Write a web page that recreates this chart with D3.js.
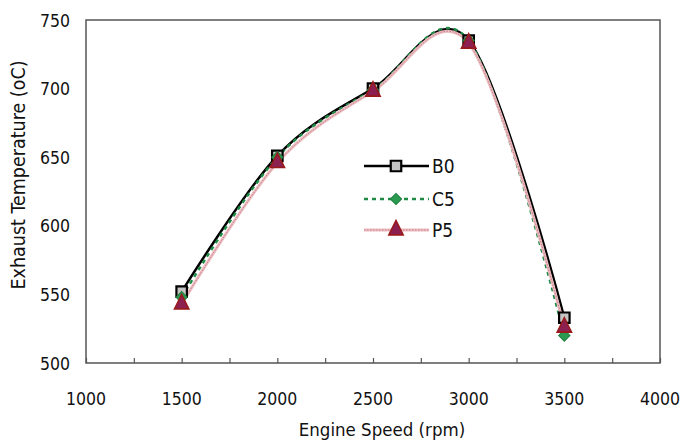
<!DOCTYPE html>
<html><head><meta charset="utf-8">
<script src="https://cdn.jsdelivr.net/npm/d3@7"></script>
<style>body{margin:0;background:#fff}svg{display:block}text{font-family:"DejaVu Sans Condensed","DejaVu Sans",sans-serif;fill:#111}</style>
</head><body><svg id="c" width="682" height="442"></svg>
<script>
const speeds = [1500, 2000, 2500, 3000, 3500];
const b0 = [552, 651, 700, 735, 533];
const c5 = [548, 650, 699, 735, 520];
const p5 = [543, 646, 698, 733, 526];
const seriesNames = ["B0", "C5", "P5"];
const xTickLabels = [1000, 1500, 2000, 2500, 3000, 3500, 4000];
const yTickLabels = [500, 550, 600, 650, 700, 750];

const svg = d3.select("#c");
const L = 86, R = 660, T = 20, B = 363;
const x = d3.scaleLinear().domain([1000, 4000]).range([L, R]);
const y = d3.scaleLinear().domain([500, 750]).range([B, T]);

// frame
svg.append("rect").attr("x", L).attr("y", T).attr("width", R - L).attr("height", B - T)
  .attr("fill", "none").attr("stroke", "#555").attr("stroke-width", 1.5);

// x ticks (inward), every 250
const xAxis = d3.axisBottom(x).tickValues(d3.range(1000, 4001, 250)).tickSize(-5).tickFormat("");
const gx = svg.append("g").attr("transform", `translate(0,${B})`).call(xAxis);
gx.select(".domain").remove();
gx.selectAll("line").attr("stroke", "#555").attr("stroke-width", 1.2);
svg.append("g").selectAll("text").data(xTickLabels).join("text")
  .attr("x", d => x(d)).attr("y", 405).attr("text-anchor", "middle")
  .attr("font-size", 17.5).text(d => d);

// y labels
svg.append("g").selectAll("text").data(yTickLabels).join("text")
  .attr("x", 70).attr("y", d => y(d) + 6.5).attr("text-anchor", "end")
  .attr("font-size", 17.5).text(d => d);

// axis titles
svg.append("text").attr("x", 382).attr("y", 436).attr("text-anchor", "middle")
  .attr("font-size", 18.5).text("Engine Speed (rpm)");
svg.append("text").attr("transform", "translate(25,175) rotate(-90)").attr("text-anchor", "middle")
  .attr("font-size", 19.5).text("Exhaust Temperature (oC)");

const line = d3.line().x((d, i) => x(speeds[i])).y(d => y(d)).curve(d3.curveCardinal.tension(0));

// lines
svg.append("path").attr("d", line(b0)).attr("fill", "none").attr("stroke", "#000").attr("stroke-width", 2.5);
svg.append("path").attr("d", line(c5)).attr("fill", "none").attr("stroke", "#1f8a45").attr("stroke-width", 2.5).attr("stroke-dasharray", "4,4");
svg.append("path").attr("d", line(p5)).attr("fill", "none").attr("stroke", "#ebbcc0").attr("stroke-width", 3);
svg.append("path").attr("d", line(p5)).attr("fill", "none").attr("stroke", "#c9808c").attr("stroke-width", 1).attr("stroke-dasharray", "1.5,1.5");

const sq = d3.symbol().type(d3.symbolSquare).size(110);
const di = d3.symbol().type(d3.symbolSquare).size(64);
const tr = d3.symbol().type(d3.symbolTriangle).size(100);

function markersB(g, pts) {
  g.selectAll(null).data(pts).join("path").attr("d", sq)
    .attr("transform", d => `translate(${d[0]},${d[1]})`)
    .attr("fill", "#c4c4c4").attr("stroke", "#000").attr("stroke-width", 2.2);
}
function markersC(g, pts) {
  g.selectAll(null).data(pts).join("path").attr("d", di)
    .attr("transform", d => `translate(${d[0]},${d[1]}) rotate(45)`)
    .attr("fill", "#2a9a50").attr("stroke", "#1f8040").attr("stroke-width", 1);
}
function markersP(g, pts) {
  g.selectAll(null).data(pts).join("path").attr("d", tr)
    .attr("transform", d => `translate(${d[0]},${d[1]}) scale(0.95,1.1)`)
    .attr("fill", "#8c2050").attr("stroke", "#9a1a1a").attr("stroke-width", 1.5);
}
markersB(svg.append("g"), b0.map((v, i) => [x(speeds[i]), y(v)]));
markersC(svg.append("g"), c5.map((v, i) => [x(speeds[i]), y(v)]));
markersP(svg.append("g"), p5.map((v, i) => [x(speeds[i]), y(v)]));

// legend
const lg = svg.append("g");
const ly = [166, 199, 230];
lg.append("line").attr("x1", 364).attr("x2", 429).attr("y1", ly[0]).attr("y2", ly[0]).attr("stroke", "#000").attr("stroke-width", 2.5);
lg.append("line").attr("x1", 364).attr("x2", 429).attr("y1", ly[1]).attr("y2", ly[1]).attr("stroke", "#1f8a45").attr("stroke-width", 2.5).attr("stroke-dasharray", "4,4");
lg.append("line").attr("x1", 364).attr("x2", 429).attr("y1", ly[2]).attr("y2", ly[2]).attr("stroke", "#ebbcc0").attr("stroke-width", 3);
lg.append("line").attr("x1", 364).attr("x2", 429).attr("y1", ly[2]).attr("y2", ly[2]).attr("stroke", "#c9808c").attr("stroke-width", 1).attr("stroke-dasharray", "1.5,1.5");
markersB(lg.append("g"), [[396, ly[0]]]);
markersC(lg.append("g"), [[396, ly[1]]]);
markersP(lg.append("g"), [[396, ly[2]]]);
lg.selectAll("text").data(seriesNames).join("text")
  .attr("x", 432).attr("y", (d, i) => ly[i] + 7).attr("font-size", 19).text(d => d);
</script></body></html>
